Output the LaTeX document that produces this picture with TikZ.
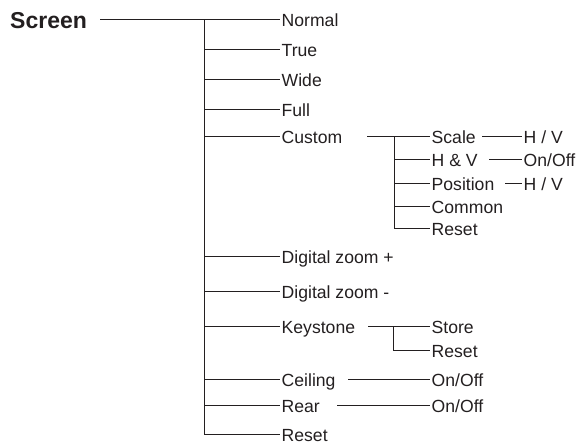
\documentclass[tikz,border=0pt]{standalone}
\usepackage{fontspec}
\setmainfont{Liberation Sans}
\definecolor{ink}{HTML}{231F20}
\begin{document}
\begin{tikzpicture}[x=1pt,y=-1pt,
  item/.style={anchor=base west, inner xsep=1.5pt, inner ysep=0pt, text=ink, font=\fontsize{17.6}{20}\selectfont},
  title/.style={anchor=base west, inner sep=0pt, text=ink, font=\fontsize{23}{26}\selectfont\bfseries},
  conn/.style={draw=ink, line width=1pt}]
\useasboundingbox (0,0) rectangle (586,445);
% title
\node[title] (screen) at (10,28) {Screen};
% first level items
\node[item] (normal) at (280,26) {Normal};
\node[item] (true) at (280,56) {True};
\node[item] (wide) at (280,86) {Wide};
\node[item] (full) at (280,116) {Full};
\node[item] (custom) at (280,143) {Custom};
\node[item] (dzp) at (280,263) {Digital zoom +};
\node[item] (dzm) at (280,298) {Digital zoom -};
\node[item] (keystone) at (280,333) {Keystone};
\node[item] (ceiling) at (280,386) {Ceiling};
\node[item] (rear) at (280,412) {Rear};
\node[item] (reset) at (280,441) {Reset};
% custom sub items
\node[item] (scale) at (430,143) {Scale};
\node[item] (hv) at (430,166) {H \& V};
\node[item] (position) at (430,190) {Position};
\node[item] (common) at (430,213) {Common};
\node[item] (creset) at (430,235) {Reset};
\node[item] (scalehv) at (522,143) {H / V};
\node[item] (hvonoff) at (522,166) {On/Off};
\node[item] (poshv) at (522,190) {H / V};
% keystone sub
\node[item] (store) at (430,333) {Store};
\node[item] (kreset) at (430,357) {Reset};
\node[item] (ceilonoff) at (430,386) {On/Off};
\node[item] (rearonoff) at (430,412) {On/Off};
% coordinates
\coordinate (s0) at (100,19);
\coordinate (t0) at (204,19);
\coordinate (t1) at (204,49);
\coordinate (t2) at (204,79);
\coordinate (t3) at (204,109);
\coordinate (t4) at (204,136);
\coordinate (t5) at (204,256);
\coordinate (t6) at (204,291);
\coordinate (t7) at (204,326);
\coordinate (t8) at (204,379);
\coordinate (t9) at (204,405);
\coordinate (t10) at (204,434);
% trunk
\draw[conn] (s0) -- (s0 -| normal.west);
\draw[conn] (t0) -- (t10);
\foreach \t/\n in {t1/true,t2/wide,t3/full,t4/custom,t5/dzp,t6/dzm,t7/keystone,t8/ceiling,t9/rear,t10/reset}
  \draw[conn] (\t) -- (\t -| \n.west);
% custom branch
\coordinate (c0) at (367,136);
\coordinate (cj0) at (394,136);
\coordinate (cj1) at (394,159);
\coordinate (cj2) at (394,183);
\coordinate (cj3) at (394,206);
\coordinate (cj4) at (394,228);
\draw[conn] (c0) -- (c0 -| scale.west);
\draw[conn] (cj0) -- (cj4);
\foreach \t/\n in {cj1/hv,cj2/position,cj3/common,cj4/creset}
  \draw[conn] (\t) -- (\t -| \n.west);
\coordinate (sc0) at (482,136);
\coordinate (hv0) at (489,159);
\coordinate (po0) at (505,183);
\draw[conn] (sc0) -- (sc0 -| scalehv.west);
\draw[conn] (hv0) -- (hv0 -| hvonoff.west);
\draw[conn] (po0) -- (po0 -| poshv.west);
% keystone branch
\coordinate (k0) at (368,326);
\coordinate (kj0) at (393,326);
\coordinate (kj1) at (393,350);
\draw[conn] (k0) -- (k0 -| store.west);
\draw[conn] (kj0) -- (kj1) -- (kj1 -| kreset.west);
% ceiling, rear
\coordinate (ce0) at (348,379);
\coordinate (re0) at (337,405);
\draw[conn] (ce0) -- (ce0 -| ceilonoff.west);
\draw[conn] (re0) -- (re0 -| rearonoff.west);
\end{tikzpicture}
\end{document}
